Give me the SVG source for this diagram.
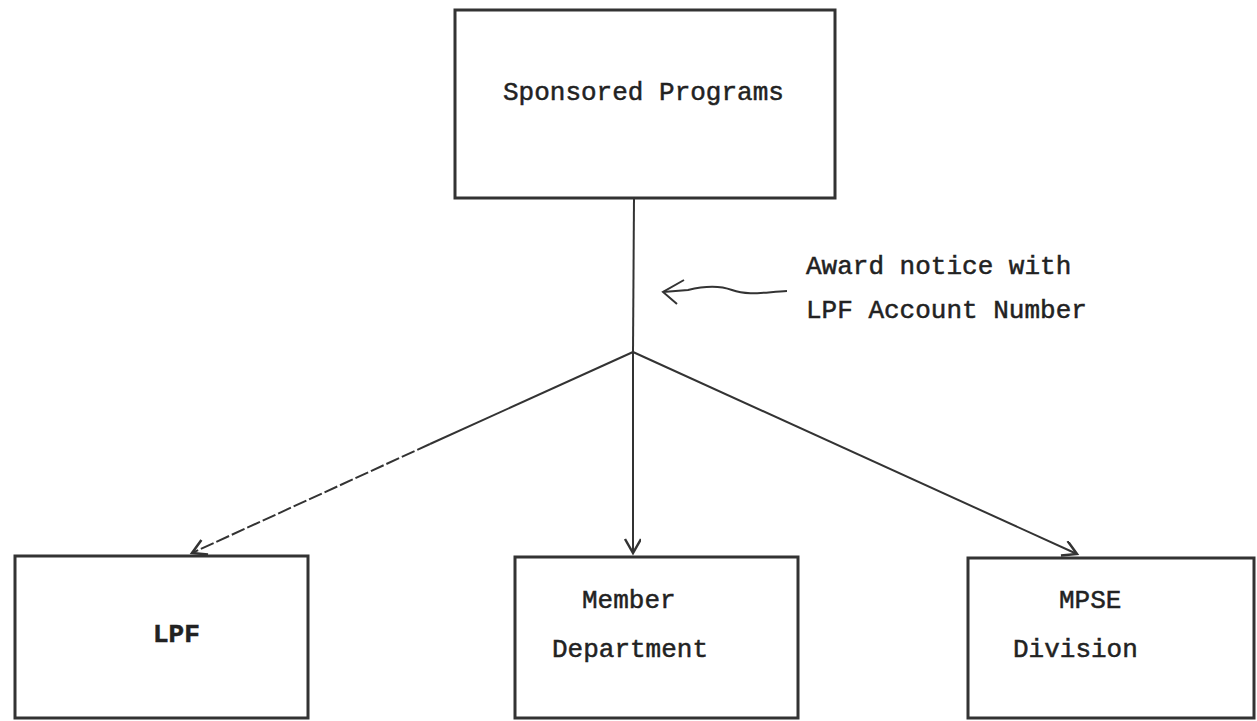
<svg xmlns="http://www.w3.org/2000/svg" width="1257" height="721" viewBox="0 0 1257 721">
<style>
.box{fill:#fff;stroke:#333;stroke-width:3}
.t{font-family:"Liberation Mono","Courier New",monospace;font-size:26px;fill:#222;stroke:#222;stroke-width:0.5}
.tb{font-family:"Liberation Mono","Courier New",monospace;font-size:26px;font-weight:bold;fill:#222;stroke:#222;stroke-width:0.5}
.ln{fill:none;stroke:#333;stroke-width:2}
</style>
<defs>
<marker id="v" markerWidth="20" markerHeight="20" refX="16" refY="8" orient="auto" markerUnits="userSpaceOnUse">
<path d="M2,0 L16,8 L2,16" fill="none" stroke="#333" stroke-width="2.5"/>
</marker>
</defs>
<rect width="1257" height="721" fill="#fff"/>
<g id="sponsored">
<rect class="box" x="455" y="10" width="380" height="188"/>
<text class="t" x="503" y="100">Sponsored Programs</text>
</g>
<g id="lpf">
<rect class="box" x="15" y="556" width="293" height="162"/>
<text class="tb" x="153" y="642">LPF</text>
</g>
<g id="member">
<rect class="box" x="515" y="557" width="283" height="161"/>
<text class="t" x="582" y="608">Member</text>
<text class="t" x="552" y="657">Department</text>
</g>
<g id="mpse">
<rect class="box" x="968" y="558" width="286" height="160"/>
<text class="t" x="1059" y="608">MPSE</text>
<text class="t" x="1013" y="657">Division</text>
</g>
<g id="connectors">
<line class="ln" x1="634" y1="198" x2="633" y2="352"/>
<line class="ln" x1="633" y1="352" x2="633" y2="553" marker-end="url(#v)"/>
<line class="ln" x1="633" y1="352" x2="430" y2="444"/>
<line class="ln" x1="430" y1="444" x2="192" y2="553" stroke-dasharray="14 3" marker-end="url(#v)"/>
<line class="ln" x1="633" y1="352" x2="1077" y2="554" marker-end="url(#v)"/>
<path class="ln" stroke-width="3" d="M787,291 C765,292 748,296 732,290 C716,284 700,287 688,290 L663,292"/>
<path class="ln" stroke-width="3" d="M684,280 L663,292 L677,304"/>
</g>
<g id="label">
<text class="t" x="806" y="274">Award notice with</text>
<text class="t" x="806" y="318">LPF Account Number</text>
</g>
</svg>
